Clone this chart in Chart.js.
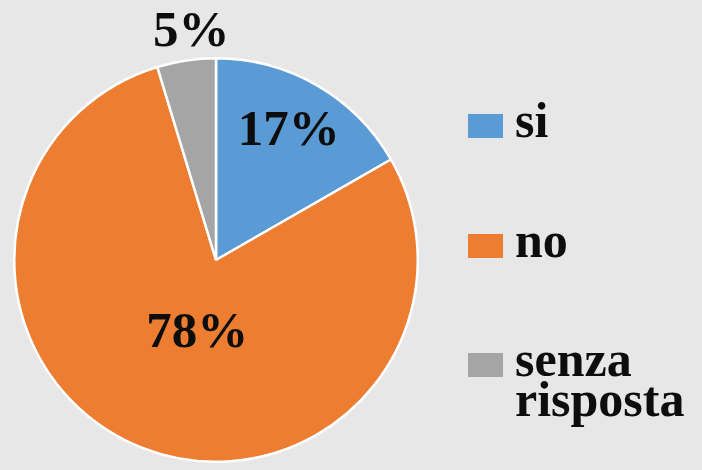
<!DOCTYPE html>
<html>
<head>
<meta charset="utf-8">
<script src="https://cdn.jsdelivr.net/npm/chart.js@4"></script>
<style>
  html, body { margin: 0; padding: 0; background: #e7e7e7; }
  #wrap { width: 702px; height: 470px; position: relative; }
</style>
</head>
<body>
<div id="wrap"><canvas id="pieChart" width="702" height="470"></canvas></div>
<script>
const categories = ['si', 'no', 'senza risposta'];
const values = [16.7, 78.6, 4.7];
const percentLabels = ['17%', '78%', '5%'];
const colors = ['#5b9bd5', '#ed7d31', '#a5a5a5'];

const FONT = "'Liberation Serif', serif";

// label distance from centre (fraction of radius) plus a small nudge in px
const labelRadius = [0.735, 0.367, 1.143];
const labelNudge = [[-1.5, 0], [8.4, 5.2], [9.3, 0.9]];

const sliceLabels = {
  id: 'sliceLabels',
  afterDatasetsDraw(chart) {
    const ctx = chart.ctx;
    const meta = chart.getDatasetMeta(0);
    ctx.save();
    ctx.font = 'bold 51px ' + FONT;
    ctx.fillStyle = '#0d0d0d';
    ctx.textAlign = 'center';
    ctx.textBaseline = 'middle';
    meta.data.forEach((arc, i) => {
      const mid = (arc.startAngle + arc.endAngle) / 2;
      const r = arc.outerRadius * labelRadius[i];
      ctx.fillText(percentLabels[i],
        arc.x + Math.cos(mid) * r + labelNudge[i][0],
        arc.y + Math.sin(mid) * r + labelNudge[i][1]);
    });
    ctx.restore();
  }
};

// legend on the right, drawn by hand for the wide spacing
const sideLegend = {
  id: 'sideLegend',
  afterDraw(chart) {
    const ctx = chart.ctx;
    const rows = [126, 246, 365];
    ctx.save();
    ctx.font = 'bold 50px ' + FONT;
    ctx.textBaseline = 'alphabetic';
    chart.data.labels.forEach((label, i) => {
      ctx.fillStyle = chart.data.datasets[0].backgroundColor[i];
      ctx.fillRect(468, rows[i] - 12, 35, 24);
      ctx.fillStyle = '#0d0d0d';
      label.split(' ').forEach((w, j) => {
        ctx.fillText(w, 515, rows[i] + 11 + j * 40);
      });
    });
    ctx.restore();
  }
};

new Chart(document.getElementById('pieChart'), {
  type: 'pie',
  data: {
    labels: categories,
    datasets: [{
      data: values,
      backgroundColor: colors,
      borderColor: '#ffffff',
      borderWidth: 2.5
    }]
  },
  options: {
    responsive: false,
    animation: false,
    layout: { padding: { left: 13, top: 57, right: 283, bottom: 7 } },
    plugins: {
      legend: { display: false },
      tooltip: { enabled: false }
    }
  },
  plugins: [sliceLabels, sideLegend]
});
</script>
</body>
</html>
